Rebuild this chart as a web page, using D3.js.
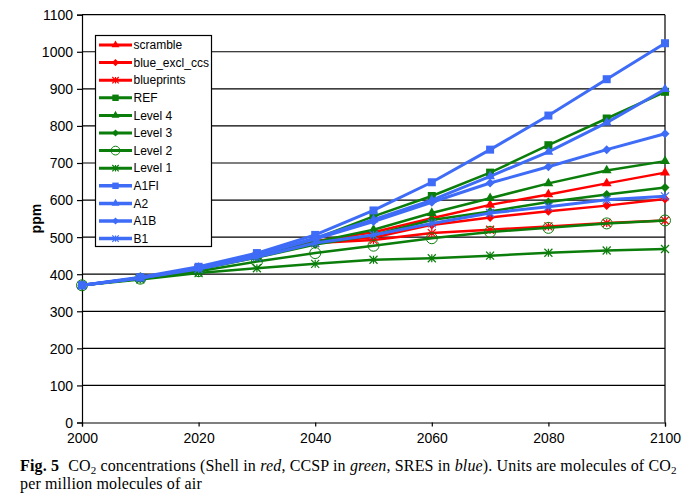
<!DOCTYPE html>
<html>
<head>
<meta charset="utf-8">
<script src="https://cdn.jsdelivr.net/npm/d3@7"></script>
<style>
  body { margin: 0; background: #fff; }
  svg text { font-family: "Liberation Sans", Arial, sans-serif; }
  .caption { font-family: "Liberation Serif", "Times New Roman", serif; font-size: 16px; letter-spacing: 0.15px; }
</style>
</head>
<body>
<svg id="chart" width="697" height="499"></svg>
<script>
// years on the x axis
const years = [2000, 2010, 2020, 2030, 2040, 2050, 2060, 2070, 2080, 2090, 2100];
const yTicks = [0, 100, 200, 300, 400, 500, 600, 700, 800, 900, 1000, 1100];
const xTicks = [2000, 2020, 2040, 2060, 2080, 2100];

// Shell (red)
const scramble     = [370, 390, 416, 452, 489, 513, 551, 587, 615, 645, 674];
const blueExclCcs  = [370, 390, 416, 450, 487, 499, 533, 553, 570, 585, 603];
const blueprints   = [370, 390, 416, 449, 484, 492, 511, 520, 529, 538, 545];
// CCSP (green)
const ref    = [370, 389, 415, 450, 496, 556, 611, 674, 748, 820, 892];
const level4 = [370, 389, 414, 447, 487, 520, 565, 605, 645, 680, 705];
const level3 = [370, 389, 413, 445, 480, 506, 546, 569, 595, 615, 634];
const level2 = [370, 388, 408, 434, 457, 477, 497, 514, 525, 537, 545];
const level1 = [370, 386, 403, 416, 428, 439, 443, 450, 458, 464, 468];
// SRES (blue)
const a1fi = [370, 392, 420, 457, 506, 572, 648, 736, 828, 926, 1023];
const a2   = [370, 390, 417, 452, 498, 547, 600, 664, 730, 809, 899];
const a1b  = [370, 390, 417, 452, 495, 542, 594, 646, 690, 736, 779];
const b1   = [370, 390, 414, 446, 484, 506, 537, 565, 582, 601, 610];

const RED = "#ff0000", GREEN = "#0b7d0b", BLUE = "#3e6cf7";

const series = [
  { name: "scramble", values: scramble, color: RED, marker: "triangle" },
  { name: "blue_excl_ccs", values: blueExclCcs, color: RED, marker: "diamond" },
  { name: "blueprints", values: blueprints, color: RED, marker: "star" },
  { name: "REF", values: ref, color: GREEN, marker: "square" },
  { name: "Level 4", values: level4, color: GREEN, marker: "triangle" },
  { name: "Level 3", values: level3, color: GREEN, marker: "diamond" },
  { name: "Level 2", values: level2, color: GREEN, marker: "circle" },
  { name: "Level 1", values: level1, color: GREEN, marker: "star" },
  { name: "A1FI", values: a1fi, color: BLUE, marker: "square" },
  { name: "A2", values: a2, color: BLUE, marker: "triangle" },
  { name: "A1B", values: a1b, color: BLUE, marker: "diamond" },
  { name: "B1", values: b1, color: BLUE, marker: "star" }
];

const svg = d3.select("#chart");
const plotLeft = 82, plotRight = 665, plotTop = 14.7, plotBottom = 422.5;

const x = d3.scaleLinear().domain([2000, 2100]).range([plotLeft, plotRight]);
const y = d3.scaleLinear().domain([0, 1100]).range([plotBottom, plotTop]);

// gridlines
svg.append("g")
  .selectAll("line")
  .data(yTicks.filter(d => d > 0))
  .enter()
  .append("line")
  .attr("x1", plotLeft).attr("x2", plotRight)
  .attr("y1", d => y(d)).attr("y2", d => y(d))
  .attr("stroke", "#000").attr("stroke-width", 1.2);

// right border
svg.append("line")
  .attr("x1", plotRight).attr("x2", plotRight)
  .attr("y1", plotTop).attr("y2", plotBottom)
  .attr("stroke", "#000").attr("stroke-width", 1.2);

// axes
const yAxis = svg.append("g")
  .attr("transform", `translate(${plotLeft},0)`)
  .call(d3.axisLeft(y).tickValues(yTicks).tickFormat(d3.format("d")).tickSize(5).tickPadding(4));
const xAxis = svg.append("g")
  .attr("transform", `translate(0,${plotBottom})`)
  .call(d3.axisBottom(x).tickValues(xTicks).tickFormat(d3.format("d")).tickSize(4).tickPadding(3));
[yAxis, xAxis].forEach(a => {
  a.select(".domain").attr("stroke", "#000").attr("stroke-width", 1.2);
  a.selectAll(".tick line").attr("stroke", "#000").attr("stroke-width", 1.2);
  a.selectAll("text").attr("fill", "#000").style("font-size", "14px")
    .style("font-family", "'Liberation Sans', Arial, sans-serif");
});
yAxis.selectAll("text").attr("dy", "0.35em");
xAxis.selectAll("text").attr("dy", "0.95em");

svg.append("text")
  .attr("transform", `translate(41,${(plotTop + plotBottom) / 2}) rotate(-90)`)
  .attr("text-anchor", "middle")
  .style("font-size", "14px").style("font-weight", "bold")
  .text("ppm");

// marker shapes
function drawMarker(g, type, color, cx, cy, s) {
  s = s || 1;
  if (type === "square") {
    g.append("rect").attr("x", cx - 4 * s).attr("y", cy - 4 * s)
      .attr("width", 8 * s).attr("height", 8 * s).attr("fill", color);
  } else if (type === "triangle") {
    g.append("path").attr("d", d3.symbol(d3.symbolTriangle, 42 * s * s)()).attr("fill", color)
      .attr("transform", `translate(${cx},${cy})`);
  } else if (type === "diamond") {
    const r = 4.5 * s;
    g.append("path").attr("d", `M${cx},${cy - r}L${cx + r},${cy}L${cx},${cy + r}L${cx - r},${cy}Z`)
      .attr("fill", color);
  } else if (type === "circle") {
    g.append("circle").attr("cx", cx).attr("cy", cy).attr("r", 5.5 * s)
      .attr("fill", "none").attr("stroke", color).attr("stroke-width", 1);
  } else if (type === "star") {
    const r = 4 * s;
    const p = `M${cx - r},${cy - r}L${cx + r},${cy + r}M${cx - r},${cy + r}L${cx + r},${cy - r}M${cx},${cy - r}L${cx},${cy + r}`;
    g.append("path").attr("d", p).attr("stroke", color).attr("stroke-width", 1.2).attr("fill", "none");
  }
}

const line = d3.line().x((d, i) => x(years[i])).y(d => y(d));

const plot = svg.append("g");
series.forEach(s => {
  const g = plot.append("g");
  g.append("path")
    .datum(s.values)
    .attr("d", line)
    .attr("fill", "none")
    .attr("stroke", s.color)
    .attr("stroke-width", s.color === BLUE ? 3 : 2.5);
  s.values.forEach((v, i) => drawMarker(g, s.marker, s.color, x(years[i]), y(v)));
});

// legend
const legend = svg.append("g");
legend.append("rect")
  .attr("x", 95.5).attr("y", 35.5).attr("width", 116).attr("height", 211)
  .attr("fill", "#fff").attr("stroke", "#000").attr("stroke-width", 1.2);
series.forEach((s, i) => {
  const ly = 45 + i * 17.6;
  const g = legend.append("g");
  g.append("line").attr("x1", 99).attr("x2", 132).attr("y1", ly).attr("y2", ly)
    .attr("stroke", s.color).attr("stroke-width", s.color === BLUE ? 3.5 : 3);
  drawMarker(g, s.marker, s.color, 115.5, ly, 0.8);
  g.append("text").attr("x", 133.5).attr("y", ly).attr("dy", "0.35em")
    .style("font-size", "12px").attr("fill", "#000").text(s.name);
});

// caption
const cap = svg.append("text").attr("class", "caption").attr("x", 20).attr("y", 471);
cap.append("tspan").style("font-weight", "bold").text("Fig. 5");
cap.append("tspan").attr("dx", 9).text("CO");
cap.append("tspan").attr("dy", 3).style("font-size", "11px").text("2");
cap.append("tspan").attr("dy", -3).text(" concentrations (Shell in ");
cap.append("tspan").style("font-style", "italic").text("red");
cap.append("tspan").text(", CCSP in ");
cap.append("tspan").style("font-style", "italic").text("green");
cap.append("tspan").text(", SRES in ");
cap.append("tspan").style("font-style", "italic").text("blue");
cap.append("tspan").text("). Units are molecules of CO");
cap.append("tspan").attr("dy", 3).style("font-size", "11px").text("2");
svg.append("text").attr("class", "caption").attr("x", 20).attr("y", 489)
  .text("per million molecules of air");
</script>
</body>
</html>
